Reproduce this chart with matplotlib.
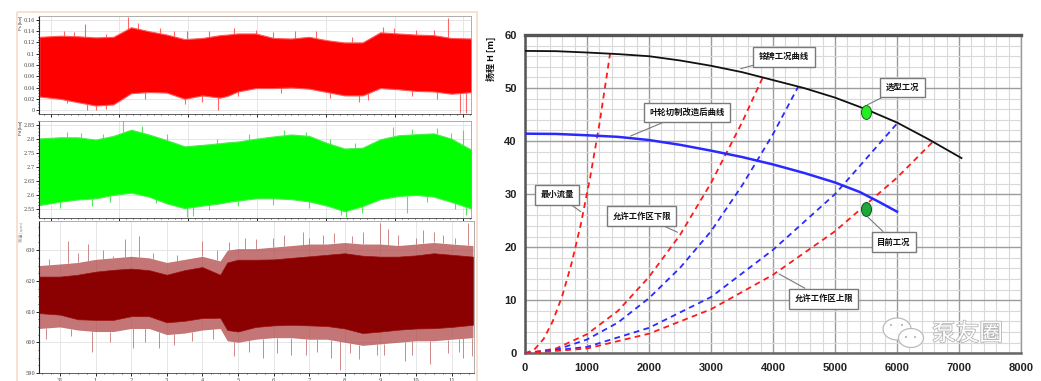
import numpy as np
import matplotlib
matplotlib.use('Agg')
import matplotlib.pyplot as plt
from matplotlib.path import Path
from matplotlib.transforms import Affine2D
from matplotlib.patches import Rectangle, Ellipse
import matplotlib.patheffects as pe
from matplotlib.ticker import MultipleLocator, FixedLocator, AutoMinorLocator, FormatStrFormatter

plt.rcParams['font.family'] = ['Liberation Sans', 'Noto Sans CJK SC', 'DejaVu Sans']
CJK = ['Noto Sans CJK SC', 'DejaVu Sans']

# ---------------- left: time-series envelopes ----------------
days = [-0.58, 0, 0.5, 1, 1.5, 2, 2.5, 3, 3.5, 4, 4.5, 4.7, 5, 5.5, 6, 6.5, 7, 7.5,
        8, 8.5, 9, 9.5, 10, 10.5, 11, 11.6]
day_labels = ['31', '1', '2', '3', '4', '5', '6', '7', '8', '9', '10', '11']

red_upper = [0.130, 0.132, 0.131, 0.129, 0.130, 0.147, 0.140, 0.134, 0.126, 0.128, 0.133, 0.134, 0.136,
             0.136, 0.128, 0.127, 0.130, 0.124, 0.120, 0.120, 0.138, 0.136, 0.134, 0.133, 0.128, 0.127]
red_lower = [0.024, 0.020, 0.014, 0.008, 0.010, 0.030, 0.032, 0.031, 0.020, 0.026, 0.022, 0.025, 0.033,
             0.039, 0.039, 0.040, 0.038, 0.032, 0.026, 0.026, 0.039, 0.037, 0.034, 0.033, 0.029, 0.032]
red_spike_days = [0.70, 1.90, 3.56, 5.52, 9.08, 10.91, 0.1, 0.4, 1.3, 2.2, 2.8, 3.2, 4.2, 4.9, 6.0, 6.6,
                  7.2, 8.2, 9.4, 10.0, 10.5,
                  0.75, 4.45, 8.66, 11.24, 11.40, 0.2, 1.0, 1.3, 2.4, 3.5, 4.0, 5.0, 6.2, 7.6, 8.4, 9.9, 10.6]
red_spike_vals = [0.152, 0.166, 0.140, 0.142, 0.148, 0.163, 0.140, 0.138, 0.135, 0.155, 0.145, 0.140, 0.140,
                  0.145, 0.138, 0.140, 0.140, 0.130, 0.145, 0.143, 0.142,
                  0.000, 0.000, 0.018, -0.006, -0.006, 0.012, 0.000, 0.002, 0.020, 0.010, 0.015, 0.025,
                  0.030, 0.022, 0.015, 0.025, 0.020]

green_upper = [2.801, 2.805, 2.805, 2.797, 2.810, 2.832, 2.815, 2.795, 2.773, 2.778, 2.784, 2.787, 2.790,
               2.800, 2.808, 2.815, 2.810, 2.785, 2.765, 2.768, 2.798, 2.812, 2.816, 2.819, 2.800, 2.758]
green_lower = [2.564, 2.576, 2.584, 2.588, 2.600, 2.608, 2.594, 2.570, 2.553, 2.562, 2.570, 2.575, 2.580,
               2.588, 2.588, 2.585, 2.577, 2.562, 2.542, 2.560, 2.585, 2.596, 2.600, 2.594, 2.575, 2.550]
green_spike_days = [1.78, 9.36, 11.33, 0.2, 0.6, 1.2, 2.3, 3.0, 4.4, 5.3, 6.3, 6.9, 7.6, 8.3, 9.9, 10.6, 11.0,
                    3.56, 3.75, 8.05, 9.74, 11.42, 0.0, 0.9, 1.4, 2.7, 4.2, 5.0, 6.0, 7.0, 7.9, 8.5, 10.3, 11.1]
green_spike_vals = [2.862, 2.840, 2.830, 2.825, 2.820, 2.815, 2.845, 2.815, 2.800, 2.815, 2.830, 2.825, 2.800,
                    2.785, 2.835, 2.838, 2.820,
                    2.520, 2.525, 2.523, 2.535, 2.530, 2.555, 2.560, 2.575, 2.570, 2.545, 2.560, 2.565,
                    2.555, 2.530, 2.535, 2.575, 2.550]

speed_core_upper = [621.4, 621.4, 622.0, 623.0, 623.6, 624.0, 623.5, 622.0, 623.5, 624.5, 622.0, 626.0, 626.9,
                    626.9, 627.0, 627.5, 628.0, 628.5, 629.0, 628.2, 627.9, 627.9, 628.3, 629.0, 628.5, 627.9]
speed_core_lower = [609.5, 609.0, 607.5, 607.3, 607.3, 608.5, 608.5, 606.5, 607.0, 607.9, 608.0, 604.0, 603.5,
                    605.0, 605.5, 605.7, 605.5, 605.3, 604.5, 603.0, 603.5, 604.1, 604.5, 604.6, 605.0, 605.7]
speed_outer_upper = [625.0, 625.5, 626.0, 627.0, 627.5, 628.0, 627.5, 626.0, 627.0, 628.0, 626.5, 630.0, 630.5,
                     630.5, 631.0, 631.5, 632.0, 632.0, 632.5, 632.0, 632.0, 631.5, 632.0, 632.5, 632.0, 631.5]
speed_outer_lower = [604.5, 605.0, 604.0, 603.5, 603.5, 604.5, 604.5, 602.5, 603.0, 604.0, 604.5, 600.5, 600.0,
                     601.0, 601.5, 601.5, 601.0, 601.0, 600.0, 599.0, 599.5, 600.0, 600.5, 600.5, 601.0, 601.5]
speed_spike_days = [0.23, 0.78, 1.84, 2.23, 3.98, 4.76, 5.99, 6.84, 7.40, 8.52, 8.99, 9.22, 10.21, 10.77, 11.47,
                    -0.3, 0.5, 1.2, 1.5, 2.6, 3.3, 4.4, 5.2, 5.5, 6.3, 7.0, 7.7, 8.2, 9.5, 10.0, 10.5, 11.1,
                    0.89, 2.04, 2.79, 5.71, 6.48, 7.21, 7.87, 8.15, 8.90, 9.69, 11.33, 11.58,
                    -0.4, 0.3, 1.4, 2.4, 3.2, 3.7, 4.3, 4.9, 5.3, 6.1, 6.9, 7.6, 8.4, 9.1, 9.9, 10.4, 10.9, 11.2]
speed_spike_vals = [633, 632, 633.5, 634.5, 633, 632.8, 634, 636, 635, 636, 639, 637, 636.5, 635, 639,
                    627, 629, 630, 628, 629, 628.5, 630, 634, 633.5, 635, 634, 635.5, 634.5, 635, 634, 636, 634,
                    597, 598, 598, 595, 596, 597, 591, 596.5, 596, 594, 595, 595.5,
                    601, 602, 600, 600, 599, 600.5, 601, 595.5, 597, 596.5, 596, 595, 594.5, 596, 596, 593,
                    596.5, 597]

# ---------------- right: pump curves ----------------
rated_q = [0, 500, 1000, 1500, 2000, 2500, 3000, 3500, 4000, 4500, 5000, 5500, 6000, 6500, 7040]
rated_h = [57.0, 56.95, 56.7, 56.4, 56.0, 55.2, 54.2, 53.0, 51.5, 50.0, 48.2, 46.0, 43.5, 40.4, 36.8]
trim_q = [0, 500, 1000, 1500, 2000, 2500, 3000, 3500, 4000, 4500, 5000, 5400, 5700, 6000]
trim_h = [41.4, 41.35, 41.1, 40.8, 40.2, 39.3, 38.2, 37.0, 35.6, 34.0, 32.2, 30.4, 28.6, 26.7]

minflow_q = [0, 150, 300, 450, 600, 750, 900, 1050, 1200, 1371]
minflow_h = [0, 0.7, 2.7, 6.1, 10.8, 16.9, 24.3, 33.1, 43.2, 56.4]
lowlim_q = [0, 500, 1000, 1500, 2000, 2500, 3000, 3500, 3834]
lowlim_h = [0, 0.9, 3.6, 8.0, 14.4, 22.3, 32.1, 43.5, 52.0]
blue1_q = [0, 500, 1000, 1500, 2000, 2500, 3000, 3500, 4000, 4408]
blue1_h = [0, 0.65, 2.6, 5.8, 10.4, 16.1, 23.0, 31.6, 41.3, 50.3]
blue2_q = [0, 1000, 2000, 3000, 4000, 5000, 6000]
blue2_h = [0, 1.2, 4.8, 10.6, 19.5, 30.0, 43.3]
uplim_q = [0, 1000, 2000, 3000, 4000, 5000, 6000, 6580]
uplim_h = [0, 0.9, 3.7, 8.3, 14.8, 23.0, 33.1, 39.9]

design_q, design_h = [5500], [45.5]
current_q, current_h = [5500], [27.2]

# ---------------- figure ----------------
W, H = 1041, 381
fig = plt.figure(figsize=(W / 100, H / 100), dpi=100)


def ax_px(x0, y0, x1, y1):
    return fig.add_axes([x0 / W, 1 - y1 / H, (x1 - x0) / W, (y1 - y0) / H])


def style_left(ax, ylim, major, fmt):
    ax.set_ylim(*ylim)
    ax.yaxis.set_major_locator(MultipleLocator(major))
    ax.yaxis.set_minor_locator(AutoMinorLocator(4))
    ax.yaxis.set_major_formatter(FormatStrFormatter(fmt))
    for s in ('top', 'right', 'bottom'):
        ax.spines[s].set_color('#a0a0a0')
        ax.spines[s].set_linewidth(0.6)
    ax.spines['left'].set_color('#222222')
    ax.spines['left'].set_linewidth(0.8)
    ax.spines['bottom'].set_color('#444444')
    ax.tick_params(axis='y', which='major', length=2, width=0.6, labelsize=3.6, pad=1, labelcolor='#444444')
    ax.tick_params(axis='y', which='minor', length=1, width=0.5)
    ax.tick_params(axis='x', which='major', length=2, width=0.6, labelsize=3.8, pad=1.5, labelcolor='#444444')
    ax.tick_params(axis='x', which='minor', length=1, width=0.5)
    ax.grid(True, which='major', color='#e2e2e2', lw=0.6)
    ax.set_axisbelow(True)
    for t in ax.get_yticklabels() + ax.get_xticklabels():
        t.set_family('DejaVu Serif')


def spikes(ax, xs, vals, up, lo, color, lw=0.8, alpha=0.8):
    xs = np.asarray(xs)
    vals = np.asarray(vals)
    top = np.interp(xs, days, up)
    bot = np.interp(xs, days, lo)
    start = np.where(vals > top, top, bot)
    ax.vlines(xs, start, vals, color=color, lw=lw, alpha=alpha, zorder=3)


top_grid = np.arange(-0.26, 11.6, 1.933)

# red panel
ax1 = ax_px(39.3, 16, 471, 114)
ax1.set_xlim(-0.58, 11.55)
ax1.fill_between(days, red_lower, red_upper, color='#ff0000', lw=0.8, ec='#ff5a5a', zorder=2)
spikes(ax1, red_spike_days, red_spike_vals, red_upper, red_lower, '#ff4040')
ax1.xaxis.set_major_locator(FixedLocator(top_grid))
ax1.xaxis.set_minor_locator(AutoMinorLocator(10))
ax1.set_xticklabels([])
style_left(ax1, (-0.007, 0.167), 0.02, '%g')

# green panel
ax2 = ax_px(39.3, 121, 471, 218)
ax2.set_xlim(-0.58, 11.55)
ax2.fill_between(days, green_lower, green_upper, color='#00ff00', lw=0.8, ec='#50ea50', zorder=2)
spikes(ax2, green_spike_days, green_spike_vals, green_upper, green_lower, '#30e030')
ax2.xaxis.set_major_locator(FixedLocator(top_grid))
ax2.xaxis.set_minor_locator(AutoMinorLocator(10))
ax2.set_xticklabels([])
style_left(ax2, (2.518, 2.863), 0.05, '%g')

# speed panel
ax3 = ax_px(39.3, 221, 474, 373)
ax3.set_xlim(-0.58, 11.63)
ax3.fill_between(days, speed_outer_lower, speed_outer_upper, color='#b04848', lw=0, alpha=0.75, zorder=2)
ax3.fill_between(days, speed_core_lower, speed_core_upper, color='#8b0000', lw=0.5, ec='#9a1010', zorder=2.5)
spikes(ax3, speed_spike_days, speed_spike_vals, speed_outer_upper, speed_outer_lower, '#c06a6a', lw=0.7, alpha=0.8)
ax3.xaxis.set_major_locator(FixedLocator(range(len(day_labels))))
ax3.set_xticklabels(day_labels)
ax3.xaxis.set_minor_locator(AutoMinorLocator(4))
style_left(ax3, (590, 639.5), 10, '%g')

fig.text(21 / W, 1 - 16 / H, 'Ps [bar]', rotation=90, fontsize=3, color='#333333', ha='center', va='top')
fig.text(21 / W, 1 - 121 / H, 'Pd [bar]', rotation=90, fontsize=3, color='#333333', ha='center', va='top')
fig.text(21 / W, 1 - 222 / H, '转速 [rpm]', rotation=90, fontsize=3, color='#888888', ha='center', va='top',
         family=CJK)

# ---------------- right chart ----------------
axr = ax_px(525, 35, 1021, 353.3)
axr.set_xlim(0, 8000)
axr.set_ylim(0, 60)
axr.xaxis.set_major_locator(MultipleLocator(1000))
axr.xaxis.set_minor_locator(MultipleLocator(200))
axr.yaxis.set_major_locator(MultipleLocator(10))
axr.yaxis.set_minor_locator(MultipleLocator(2))
axr.grid(which='major', color='#9c9c9c', lw=1.0)
axr.grid(which='minor', color='#d9d9d9', lw=0.8)
axr.set_axisbelow(True)
axr.tick_params(which='both', length=0)
axr.tick_params(axis='x', pad=7)
axr.tick_params(axis='y', pad=6)
for t in axr.get_xticklabels() + axr.get_yticklabels():
    t.set_fontweight('bold')
    t.set_fontsize(8)
    t.set_color('#222222')
axr.spines['top'].set_color('#555555')
axr.spines['top'].set_linewidth(2.4)
axr.spines['left'].set_color('#555555')
axr.spines['left'].set_linewidth(1.8)
axr.spines['bottom'].set_color('#666666')
axr.spines['bottom'].set_linewidth(1.8)
axr.spines['right'].set_color('#999999')
axr.spines['right'].set_linewidth(1.0)

dash = (3.2, 2.4)
axr.plot(rated_q, rated_h, color='#111111', lw=1.3, zorder=4)
axr.plot(trim_q, trim_h, color='#2a2aff', lw=1.8, zorder=4)
axr.plot(minflow_q, minflow_h, color='#ff1a1a', lw=1.3, dashes=dash, zorder=3)
axr.plot(lowlim_q, lowlim_h, color='#ff1a1a', lw=1.3, dashes=dash, zorder=3)
axr.plot(blue1_q, blue1_h, color='#2a2aff', lw=1.3, dashes=dash, zorder=3)
axr.plot(blue2_q, blue2_h, color='#2a2aff', lw=1.3, dashes=dash, zorder=3)
axr.plot(uplim_q, uplim_h, color='#ff1a1a', lw=1.3, dashes=dash, zorder=3)

ell = Path.unit_circle().transformed(Affine2D().scale(0.72, 1.0))
axr.plot(design_q, design_h, ls='none', marker=ell, ms=10, mfc='#22ee22', mec='#1b5e1b', mew=0.7, zorder=6)
axr.plot(current_q, current_h, ls='none', marker=ell, ms=10, mfc='#1fa83a', mec='#124d1e', mew=0.7, zorder=6)


def label(text, xy, xytext):
    axr.annotate(text, xy=xy, xytext=xytext, ha='center', va='center', fontsize=6, fontweight='bold',
                 family=CJK, color='#111111',
                 bbox=dict(boxstyle='square,pad=0.65', fc='white', ec='#7a7a7a', lw=1.0),
                 arrowprops=dict(arrowstyle='-', color='#7a7a7a', lw=0.8, shrinkA=0, shrinkB=2),
                 zorder=7)


label('铭牌工况曲线', (3435, 53.5), (4177, 55.9))
label('叶轮切制改造后曲线', (1660, 40.75), (2613, 45.4))
label('选型工况', (5480, 46.6), (6089, 50.1))
label('最小流量', (935, 26.4), (516, 29.9))
label('允许工作区下限', (2500, 22.6), (1882, 25.9))
label('目前工况', (5500, 26.0), (5952, 21.0))
label('允许工作区上限', (4060, 15.2), (4818, 10.3))

fig.text(491 / W, 1 - 59 / H, '扬程 H [m]', rotation=90, fontsize=6.5, fontweight='bold',
         family=CJK, ha='center', va='center', color='#111111')

# ---------------- overlay: frame + watermark ----------------
ov = fig.add_axes([0, 0, 1, 1], zorder=10)
ov.set_xlim(0, W)
ov.set_ylim(H, 0)
ov.axis('off')
ov.add_patch(Rectangle((17, 12), 460, 380, fill=False, ec='#f6d9c8', lw=1.2))
ov.add_patch(Ellipse((897, 329), 28, 22, fc='white', ec='#b8b8b8', lw=0.9, alpha=0.95))
ov.add_patch(Ellipse((911, 338), 25, 19, fc='white', ec='#b8b8b8', lw=0.9, alpha=0.95))
for (cx, cy) in [(891, 325), (902, 325), (906, 337), (915, 337)]:
    ov.add_patch(Ellipse((cx, cy), 2.2, 2.2, fc='#b8b8b8', ec='none'))
ov.text(967.5, 334, '泵友圈', fontsize=17, color='white', family=CJK, ha='center', va='center',
        path_effects=[pe.withStroke(linewidth=1.2, foreground='#b5b5b5')])

fig.savefig('out.png', dpi=100)
